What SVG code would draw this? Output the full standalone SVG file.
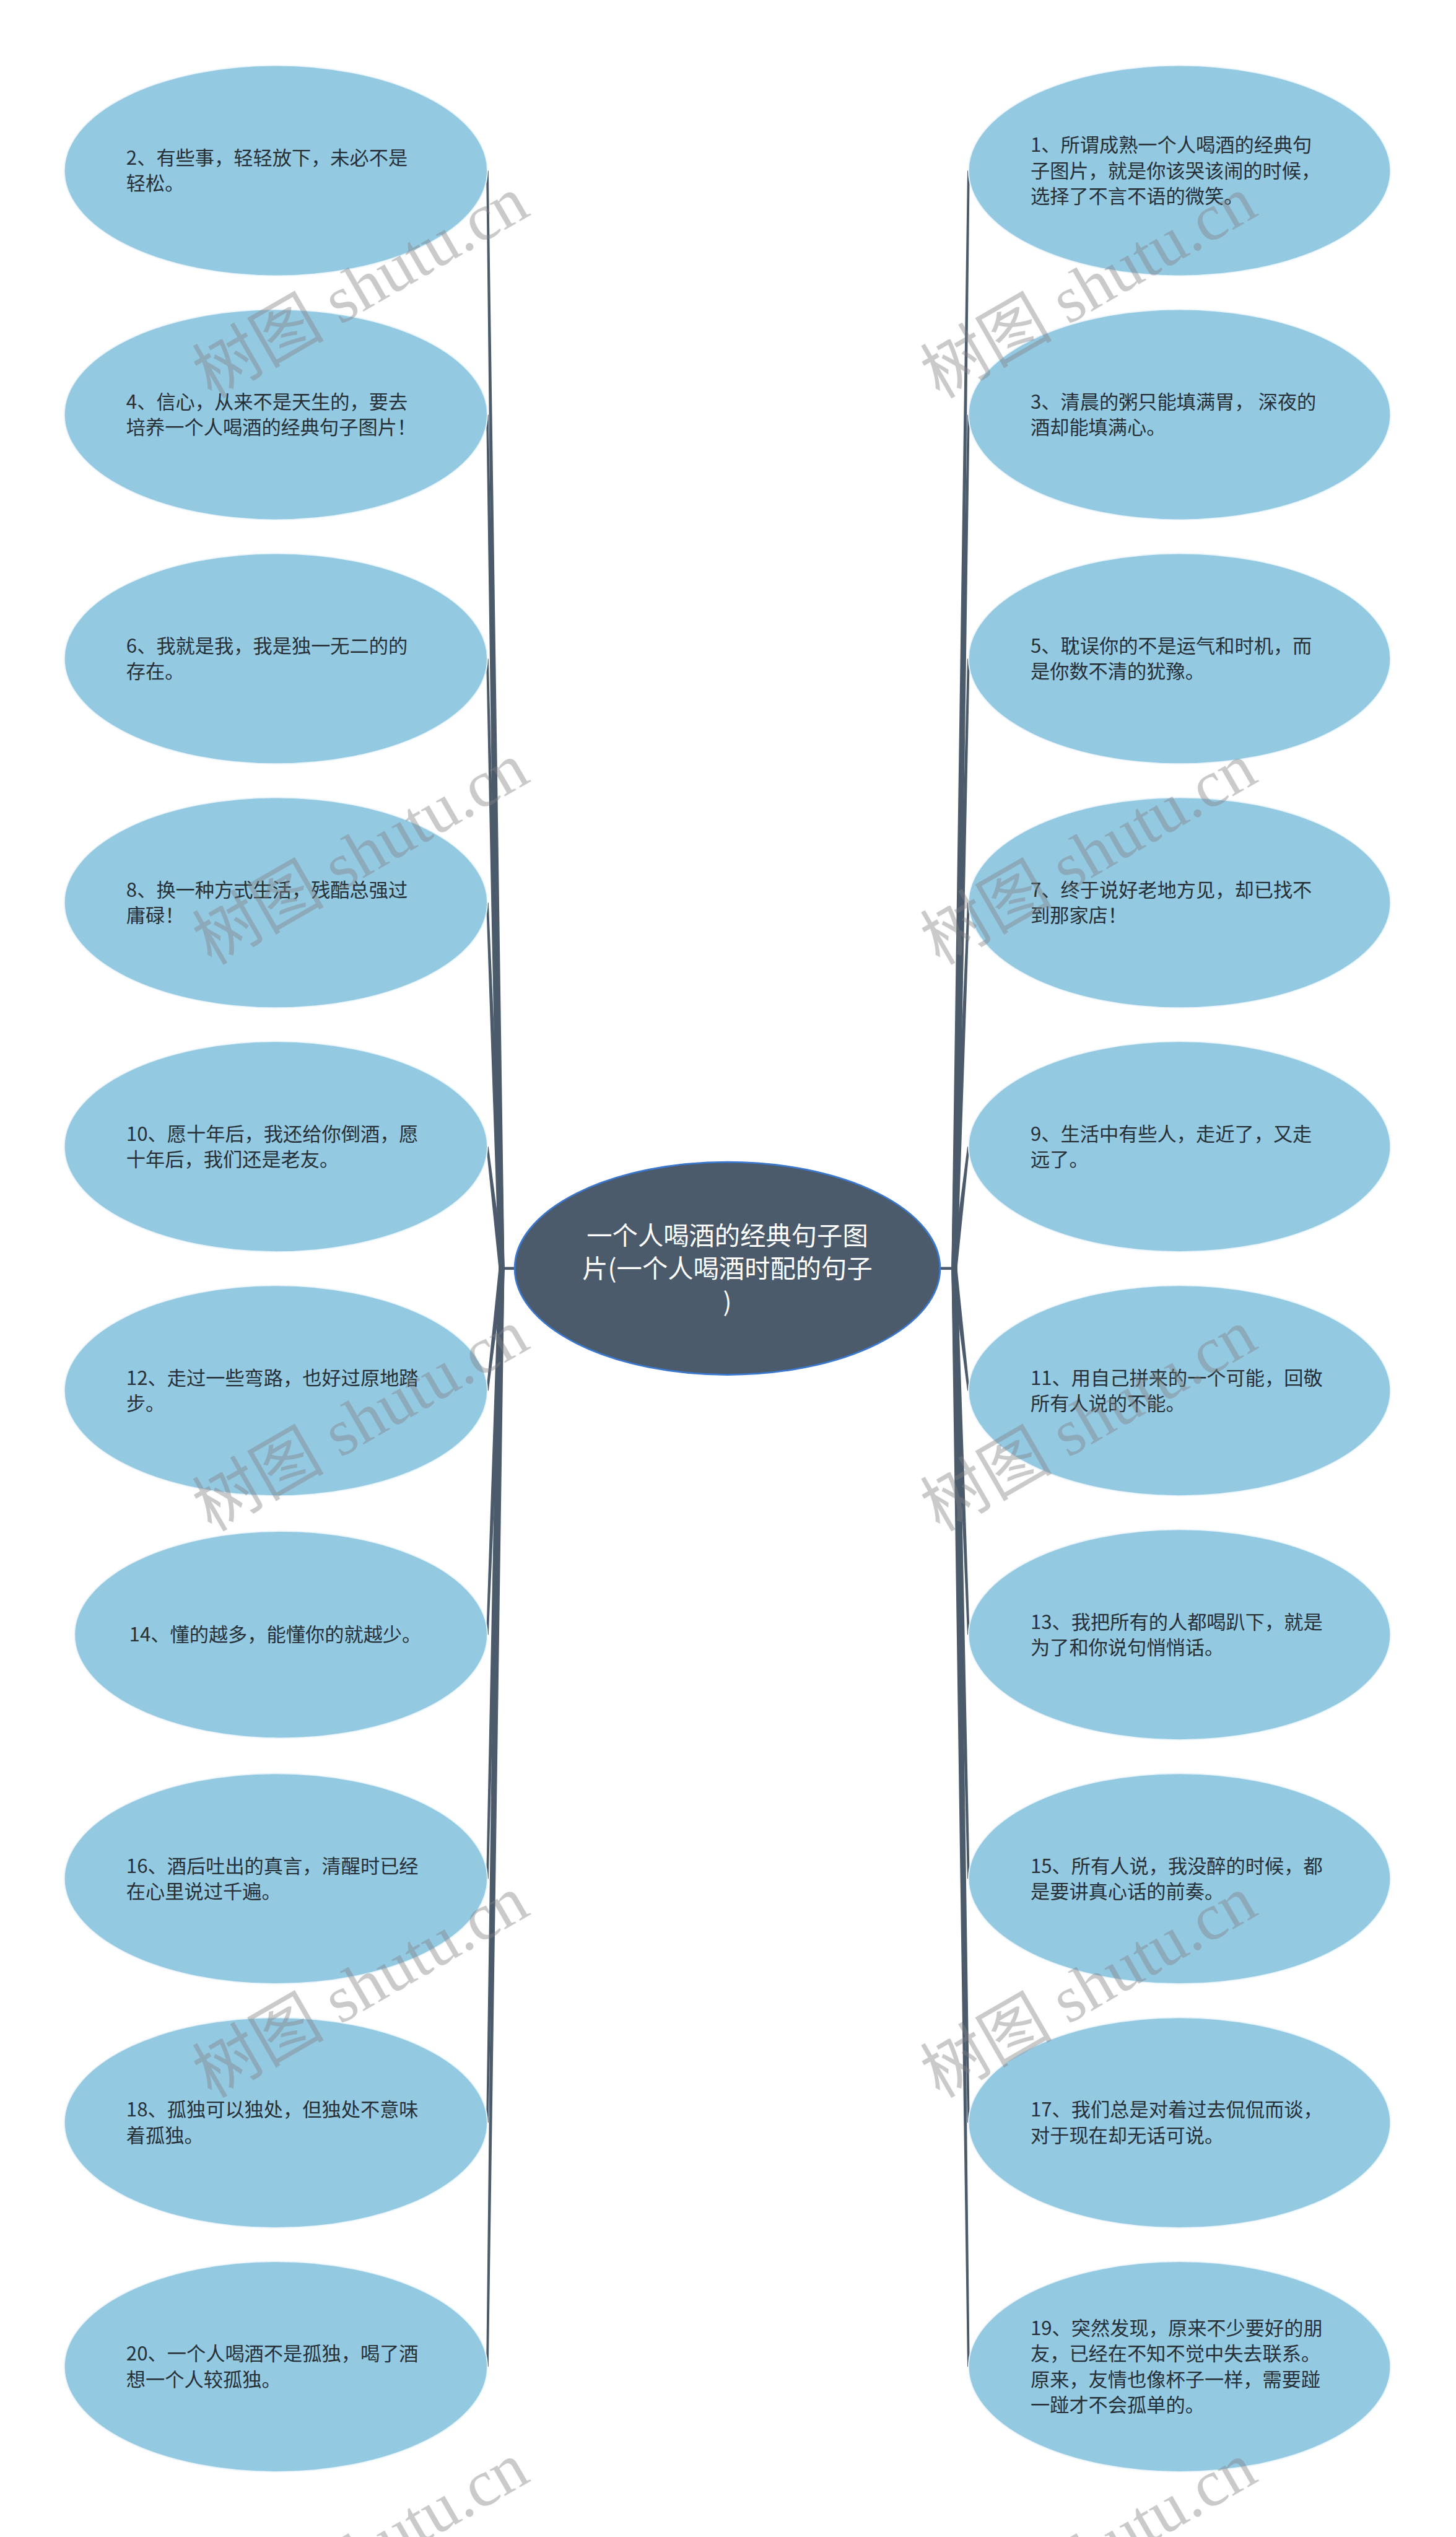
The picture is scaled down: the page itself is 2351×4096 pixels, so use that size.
<svg xmlns="http://www.w3.org/2000/svg" width="2351" height="4096" viewBox="0 0 2351 4096">
<style>
.leaf{fill:#94c9e2;stroke:#eaf5fb;stroke-width:2}
.root{fill:#4b5b6b;stroke:#3b78cf;stroke-width:3}
.lt{font-family:"Noto Sans CJK SC","Noto Sans",sans-serif;font-size:34px;fill:#263036}
.rt{font-family:"Noto Sans CJK SC","Noto Sans",sans-serif;font-size:45px;fill:#ffffff;text-anchor:middle}
.con{fill:#4b5b6b}
.wm{font-family:"Liberation Serif","Noto Sans CJK SC",serif;font-size:116px;fill:#808080;fill-opacity:0.42}
</style>
<rect width="2351" height="4096" fill="#ffffff"/>
<g transform="scale(0.9183)">
<g id="connectors">
<rect class="con" x="880" y="2227.5" width="28" height="5"/>
<rect class="con" x="1651" y="2227.5" width="29" height="5"/>
<polygon class="con" points="855,300 859,300 887,2230 877,2230"/>
<polygon class="con" points="855,729 859,729 887,2230 877,2230"/>
<polygon class="con" points="855,1158 859,1158 887,2230 877,2230"/>
<polygon class="con" points="855,1587 859,1587 887,2230 877,2230"/>
<polygon class="con" points="855,2016 859,2016 887,2230 877,2230"/>
<polygon class="con" points="855,2445 859,2445 887,2230 877,2230"/>
<polygon class="con" points="855,2874 859,2874 887,2230 877,2230"/>
<polygon class="con" points="855,3303 859,3303 887,2230 877,2230"/>
<polygon class="con" points="855,3732 859,3732 887,2230 877,2230"/>
<polygon class="con" points="855,4161 859,4161 887,2230 877,2230"/>
<polygon class="con" points="1701,300 1705,300 1683,2230 1673,2230"/>
<polygon class="con" points="1701,729 1705,729 1683,2230 1673,2230"/>
<polygon class="con" points="1701,1158 1705,1158 1683,2230 1673,2230"/>
<polygon class="con" points="1701,1587 1705,1587 1683,2230 1673,2230"/>
<polygon class="con" points="1701,2016 1705,2016 1683,2230 1673,2230"/>
<polygon class="con" points="1701,2445 1705,2445 1683,2230 1673,2230"/>
<polygon class="con" points="1701,2874 1705,2874 1683,2230 1673,2230"/>
<polygon class="con" points="1701,3303 1705,3303 1683,2230 1673,2230"/>
<polygon class="con" points="1701,3732 1705,3732 1683,2230 1673,2230"/>
<polygon class="con" points="1701,4161 1705,4161 1683,2230 1673,2230"/>
</g>
<g id="root">
<ellipse class="root" cx="1279" cy="2230" rx="374" ry="187"/>
<text class="rt"><tspan x="1279" y="2189">一个人喝酒的经典句子图</tspan><tspan x="1279" y="2247">片(一个人喝酒时配的句子</tspan><tspan x="1279" y="2305">)</tspan></text>
</g>
<g id="n2"><ellipse class="leaf" cx="485" cy="300" rx="372" ry="185"/><text class="lt"><tspan x="222" y="289.5">2、有些事，轻轻放下，未必不是</tspan><tspan x="222" y="334.5">轻松。</tspan></text></g>
<g id="n4"><ellipse class="leaf" cx="485" cy="729" rx="372" ry="185"/><text class="lt"><tspan x="222" y="718.5">4、信心，从来不是天生的，要去</tspan><tspan x="222" y="763.5">培养一个人喝酒的经典句子图片！</tspan></text></g>
<g id="n6"><ellipse class="leaf" cx="485" cy="1158" rx="372" ry="185"/><text class="lt"><tspan x="222" y="1147.5">6、我就是我，我是独一无二的的</tspan><tspan x="222" y="1192.5">存在。</tspan></text></g>
<g id="n8"><ellipse class="leaf" cx="485" cy="1587" rx="372" ry="185"/><text class="lt"><tspan x="222" y="1576.5">8、换一种方式生活，残酷总强过</tspan><tspan x="222" y="1621.5">庸碌！</tspan></text></g>
<g id="n10"><ellipse class="leaf" cx="485" cy="2016" rx="372" ry="185"/><text class="lt"><tspan x="222" y="2005.5">10、愿十年后，我还给你倒酒，愿</tspan><tspan x="222" y="2050.5">十年后，我们还是老友。</tspan></text></g>
<g id="n12"><ellipse class="leaf" cx="485" cy="2445" rx="372" ry="185"/><text class="lt"><tspan x="222" y="2434.5">12、走过一些弯路，也好过原地踏</tspan><tspan x="222" y="2479.5">步。</tspan></text></g>
<g id="n14"><ellipse class="leaf" cx="494" cy="2874" rx="363" ry="182"/><text class="lt" text-anchor="middle"><tspan x="484" y="2886">14、懂的越多，能懂你的就越少。</tspan></text></g>
<g id="n16"><ellipse class="leaf" cx="485" cy="3303" rx="372" ry="185"/><text class="lt"><tspan x="222" y="3292.5">16、酒后吐出的真言，清醒时已经</tspan><tspan x="222" y="3337.5">在心里说过千遍。</tspan></text></g>
<g id="n18"><ellipse class="leaf" cx="485" cy="3732" rx="372" ry="185"/><text class="lt"><tspan x="222" y="3721.5">18、孤独可以独处，但独处不意味</tspan><tspan x="222" y="3766.5">着孤独。</tspan></text></g>
<g id="n20"><ellipse class="leaf" cx="485" cy="4161" rx="372" ry="185"/><text class="lt"><tspan x="222" y="4150.5">20、一个人喝酒不是孤独，喝了酒</tspan><tspan x="222" y="4195.5">想一个人较孤独。</tspan></text></g>
<g id="n1"><ellipse class="leaf" cx="2074" cy="300" rx="371" ry="185"/><text class="lt"><tspan x="1812" y="267">1、所谓成熟一个人喝酒的经典句</tspan><tspan x="1812" y="312">子图片，就是你该哭该闹的时候，</tspan><tspan x="1812" y="357">选择了不言不语的微笑。</tspan></text></g>
<g id="n3"><ellipse class="leaf" cx="2074" cy="729" rx="371" ry="185"/><text class="lt"><tspan x="1812" y="718.5">3、清晨的粥只能填满胃， 深夜的</tspan><tspan x="1812" y="763.5">酒却能填满心。</tspan></text></g>
<g id="n5"><ellipse class="leaf" cx="2074" cy="1158" rx="371" ry="185"/><text class="lt"><tspan x="1812" y="1147.5">5、耽误你的不是运气和时机，而</tspan><tspan x="1812" y="1192.5">是你数不清的犹豫。</tspan></text></g>
<g id="n7"><ellipse class="leaf" cx="2074" cy="1587" rx="371" ry="185"/><text class="lt"><tspan x="1812" y="1576.5">7、终于说好老地方见，却已找不</tspan><tspan x="1812" y="1621.5">到那家店！</tspan></text></g>
<g id="n9"><ellipse class="leaf" cx="2074" cy="2016" rx="371" ry="185"/><text class="lt"><tspan x="1812" y="2005.5">9、生活中有些人，走近了，又走</tspan><tspan x="1812" y="2050.5">远了。</tspan></text></g>
<g id="n11"><ellipse class="leaf" cx="2074" cy="2445" rx="371" ry="185"/><text class="lt"><tspan x="1812" y="2434.5">11、用自己拼来的一个可能，回敬</tspan><tspan x="1812" y="2479.5">所有人说的不能。</tspan></text></g>
<g id="n13"><ellipse class="leaf" cx="2074" cy="2874" rx="371" ry="185"/><text class="lt"><tspan x="1812" y="2863.5">13、我把所有的人都喝趴下，就是</tspan><tspan x="1812" y="2908.5">为了和你说句悄悄话。</tspan></text></g>
<g id="n15"><ellipse class="leaf" cx="2074" cy="3303" rx="371" ry="185"/><text class="lt"><tspan x="1812" y="3292.5">15、所有人说，我没醉的时候，都</tspan><tspan x="1812" y="3337.5">是要讲真心话的前奏。</tspan></text></g>
<g id="n17"><ellipse class="leaf" cx="2074" cy="3732" rx="371" ry="185"/><text class="lt"><tspan x="1812" y="3721.5">17、我们总是对着过去侃侃而谈，</tspan><tspan x="1812" y="3766.5">对于现在却无话可说。</tspan></text></g>
<g id="n19"><ellipse class="leaf" cx="2074" cy="4161" rx="371" ry="185"/><text class="lt"><tspan x="1812" y="4105.5">19、突然发现，原来不少要好的朋</tspan><tspan x="1812" y="4150.5">友，已经在不知不觉中失去联系。</tspan><tspan x="1812" y="4195.5">原来，友情也像杯子一样，需要踫</tspan><tspan x="1812" y="4240.5">一踫才不会孤单的。</tspan></text></g>
<g id="watermarks">
<text class="wm" transform="translate(372,702) rotate(-30)">树图 shutu.cn</text>
<text class="wm" transform="translate(372,1698) rotate(-30)">树图 shutu.cn</text>
<text class="wm" transform="translate(372,2694) rotate(-30)">树图 shutu.cn</text>
<text class="wm" transform="translate(372,3690) rotate(-30)">树图 shutu.cn</text>
<text class="wm" transform="translate(372,4686) rotate(-30)">树图 shutu.cn</text>
<text class="wm" transform="translate(1652,702) rotate(-30)">树图 shutu.cn</text>
<text class="wm" transform="translate(1652,1698) rotate(-30)">树图 shutu.cn</text>
<text class="wm" transform="translate(1652,2694) rotate(-30)">树图 shutu.cn</text>
<text class="wm" transform="translate(1652,3690) rotate(-30)">树图 shutu.cn</text>
<text class="wm" transform="translate(1652,4686) rotate(-30)">树图 shutu.cn</text>
</g>
</g>
</svg>
